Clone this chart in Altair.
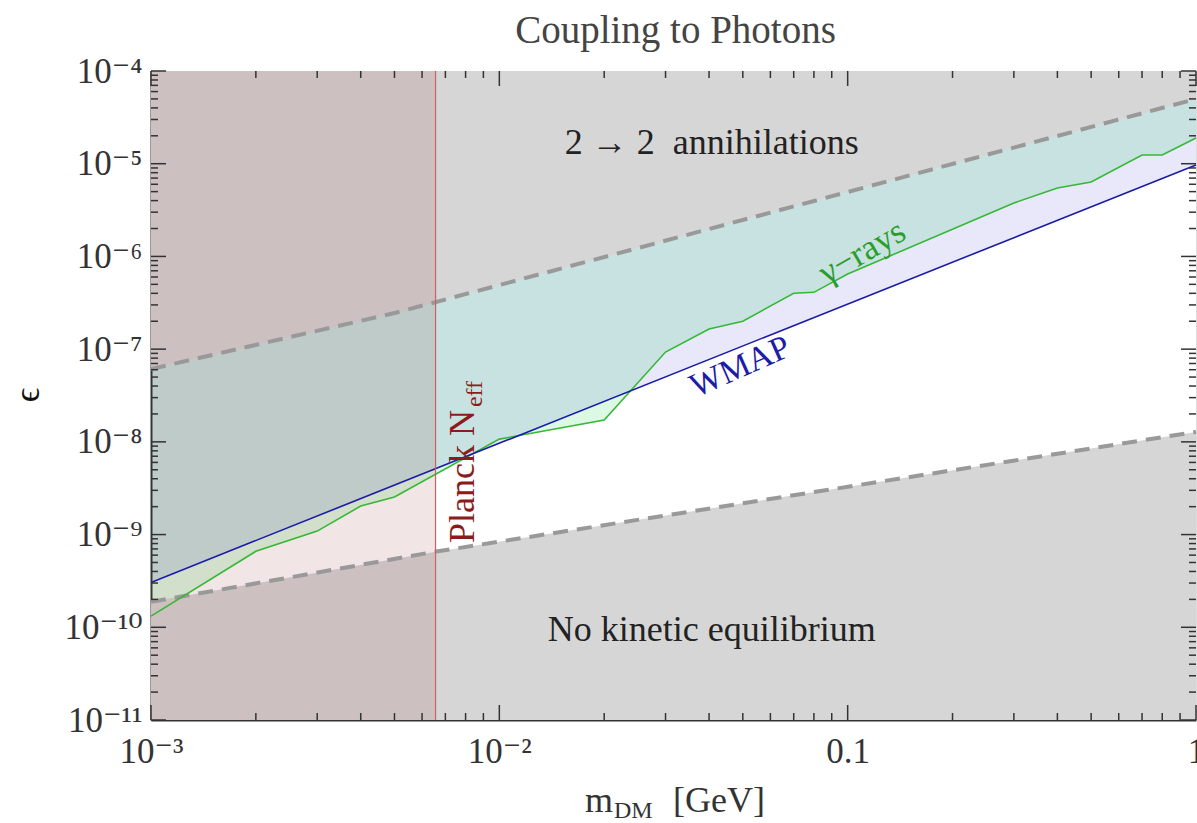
import math
import altair as alt
import pandas as pd

# ---------------- data ----------------
mass_gamma = [1e-3, 2e-3, 3e-3, 4e-3, 5e-3, 1e-2, 2e-2, 3e-2, 4e-2, 5e-2,
              7e-2, 8e-2, 0.1, 0.3, 0.4, 0.5, 0.7, 0.8, 1.0]
eps_gamma = [1.32e-10, 6.6e-10, 1.09e-9, 2.03e-9, 2.54e-9, 1.07e-8, 1.72e-8,
             9.3e-8, 1.65e-7, 2.0e-7, 4.0e-7, 4.1e-7, 6.46e-7, 3.77e-6,
             5.47e-6, 6.35e-6, 1.24e-5, 1.24e-5, 1.89e-5]

mass_wmap = [1e-3, 1.0]
eps_wmap = [3.05e-10, 9.7e-6]

mass_upper = [1e-3, 5e-3, 1.0]          # 2 -> 2 annihilations boundary
eps_upper = [6.1e-8, 2.45e-7, 5.0e-5]

mass_lower = [1e-3, 6.5e-3, 1.0]        # kinetic equilibrium boundary
eps_lower = [1.88e-10, 6.5e-10, 1.28e-8]

planck_mass = 6.56e-3

x_domain = [1e-3, 1.0]
y_domain = [1e-11, 1e-4]

x_label_values = [1e-3, 1e-2, 0.1, 1.0]
x_labels = ["10⁻³", "10⁻²", "0.1", "1"]
y_label_values = [1e-11, 1e-10, 1e-9, 1e-8, 1e-7, 1e-6, 1e-5, 1e-4]
y_labels = ["10⁻¹¹", "10⁻¹⁰", "10⁻⁹", "10⁻⁸", "10⁻⁷", "10⁻⁶", "10⁻⁵", "10⁻⁴"]

x_major = [1e-3, 1e-2, 0.1, 1.0]
x_minor = [m * 10.0 ** k for k in (-3, -2, -1) for m in range(2, 10)]
y_major = y_label_values
y_minor = [m * 10.0 ** k for k in range(-11, -4) for m in range(2, 10)]

# annotation anchors (data coordinates)
ann_text = ["2 → 2\u00a0 annihilations", "No kinetic equilibrium"]
ann_m = [0.0407, 0.0407]
ann_e = [1.67e-5, 9.3e-11]

W, H = 1045, 649
FONT = "Liberation Serif, DejaVu Serif, serif"


def label_expr(values, labels):
    parts = [f"round(log(datum.value)/LN10) == {round(math.log10(v))} ? '{l}' : "
             for v, l in zip(values, labels)]
    return "".join(parts) + "''"


xscale = alt.Scale(type="log", domain=x_domain, nice=False)
yscale = alt.Scale(type="log", domain=y_domain, nice=False)
xaxis = alt.Axis(values=x_label_values, labelExpr=label_expr(x_label_values, x_labels),
                 ticks=False, grid=False, domain=True, domainColor="#333", domainWidth=2,
                 labelFont=FONT, labelFontSize=35, labelColor="#333", labelPadding=14,
                 labelOverlap=False, labelFlush=False, title=None)
yaxis = alt.Axis(values=y_label_values, labelExpr=label_expr(y_label_values, y_labels),
                 ticks=False, grid=False, domain=True, domainColor="#333", domainWidth=2,
                 labelFont=FONT, labelFontSize=35, labelColor="#333", labelPadding=9,
                 labelOverlap=False, labelFlush=False, title=None)


def X(f):
    return alt.X(f, type="quantitative", scale=xscale, axis=xaxis)


def Y(f):
    return alt.Y(f, type="quantitative", scale=yscale, axis=yaxis)


gamma_df = pd.DataFrame({"m": mass_gamma, "e": eps_gamma, "top": y_domain[1]})
wmap_df = pd.DataFrame({"m": mass_wmap, "e": eps_wmap, "top": y_domain[1]})
upper_df = pd.DataFrame({"m": mass_upper, "e": eps_upper, "top": y_domain[1]})
lower_df = pd.DataFrame({"m": mass_lower, "e": eps_lower, "bot": y_domain[0]})
planck_df = pd.DataFrame({"m0": [x_domain[0]], "m1": [planck_mass],
                          "e0": [y_domain[0]], "e1": [y_domain[1]]})
ann_df = pd.DataFrame({"m": ann_m, "e": ann_e, "t": ann_text})

green_fill = alt.Chart(gamma_df).mark_area(color="#00d23c", opacity=0.14).encode(
    x=X("m"), y=Y("e"), y2="top")
blue_fill = alt.Chart(wmap_df).mark_area(color="#0000c8", opacity=0.09).encode(
    x=X("m"), y=Y("e"), y2="top")
gray_top = alt.Chart(upper_df).mark_area(color="#d6d6d6", opacity=1).encode(
    x=X("m"), y=Y("e"), y2="top")
gray_bot = alt.Chart(lower_df).mark_area(color="#d6d6d6", opacity=1).encode(
    x=X("m"), y=Y("e"), y2="bot")
planck_fill = alt.Chart(planck_df).mark_rect(color="#800000", opacity=0.1).encode(
    x=X("m0"), x2="m1", y=Y("e0"), y2="e1")
planck_line = alt.Chart(planck_df).mark_rule(color="#d06060", strokeWidth=1.2).encode(
    x=X("m1"), y=Y("e0"), y2="e1")
green_line = alt.Chart(gamma_df).mark_line(color="#35b835", strokeWidth=1.6).encode(
    x=X("m"), y=Y("e"))
blue_line = alt.Chart(wmap_df).mark_line(color="#1c1ca8", strokeWidth=1.6).encode(
    x=X("m"), y=Y("e"))
upper_dash = alt.Chart(upper_df).mark_line(color="#999999", strokeWidth=4,
                                           strokeDash=[15, 9]).encode(x=X("m"), y=Y("e"))
lower_dash = alt.Chart(lower_df).mark_line(color="#999999", strokeWidth=4,
                                           strokeDash=[15, 9]).encode(x=X("m"), y=Y("e"))

# frame ticks (inward, all four sides)
xt_df = pd.DataFrame({"m": x_major + x_minor,
                      "len": [15] * len(x_major) + [7] * len(x_minor)})
yt_df = pd.DataFrame({"e": y_major + y_minor,
                      "len": [15] * len(y_major) + [7] * len(y_minor)})
tick_style = dict(color="#333", strokeWidth=1.5)
ticks = []
for size in (15, 7):
    xd = xt_df[xt_df["len"] == size]
    yd = yt_df[yt_df["len"] == size]
    ticks.append(alt.Chart(xd).mark_rule(**tick_style).encode(
        x=X("m"), y=alt.value(H), y2=alt.value(H - size)))
    ticks.append(alt.Chart(xd).mark_rule(**tick_style).encode(
        x=X("m"), y=alt.value(0), y2=alt.value(size)))
    ticks.append(alt.Chart(yd).mark_rule(**tick_style).encode(
        y=Y("e"), x=alt.value(0), x2=alt.value(size)))
    ticks.append(alt.Chart(yd).mark_rule(**tick_style).encode(
        y=Y("e"), x=alt.value(W), x2=alt.value(W - size)))

# annotations
ann = alt.Chart(ann_df).mark_text(font=FONT, fontSize=36, color="#222",
                                  align="center", baseline="middle").encode(
    x=X("m"), y=Y("e"), text="t:N")
gamma_lbl = alt.Chart(pd.DataFrame({"m": [0.11], "e": [1.12e-6], "t": ["γ−rays"]})).mark_text(
    font=FONT, fontSize=35, color="#2a9d2a", angle=330, align="center", baseline="middle").encode(
    x=X("m"), y=Y("e"), text="t:N")
wmap_lbl = alt.Chart(pd.DataFrame({"m": [0.0492], "e": [6.4e-8], "t": ["WMAP"]})).mark_text(
    font=FONT, fontSize=34, color="#1c1ca8", angle=336, align="center", baseline="middle").encode(
    x=X("m"), y=Y("e"), text="t:N")
planck_lbl = alt.Chart(pd.DataFrame({"m": [7.85e-3], "e": [8.1e-10], "t": ["Planck N"]})).mark_text(
    font=FONT, fontSize=36, color="#8b1c1c", angle=270, align="left", baseline="middle").encode(
    x=X("m"), y=Y("e"), text="t:N")
planck_sub = alt.Chart(pd.DataFrame({"m": [8.5e-3], "e": [2.37e-8], "t": ["eff"]})).mark_text(
    font=FONT, fontSize=24, color="#8b1c1c", angle=270, align="left", baseline="middle").encode(
    x=X("m"), y=Y("e"), text="t:N")

# title and axis titles (outside the plot area)
def free_text(txt, px, py, size, color="#333", align="left", angle=0, baseline="alphabetic"):
    return alt.Chart(pd.DataFrame({"t": [txt]})).mark_text(
        font=FONT, fontSize=size, color=color, align=align, angle=angle,
        baseline=baseline).encode(x=alt.value(px), y=alt.value(py), text="t:N")

title = free_text("Coupling to Photons", W / 2 + 2, -28, 39, color="#444", align="center")
xt_m = free_text("m", 434, 741, 36)
xt_dm = free_text("DM", 463, 747, 24)
xt_gev = free_text("[GeV]", 522, 741, 36)
yt_eps = free_text("ϵ", -123, 324, 36, color="#111", align="center", angle=270,
                   baseline="middle")

chart = alt.layer(
    green_fill, blue_fill, gray_top, gray_bot, planck_fill,
    upper_dash, lower_dash, green_line, blue_line, planck_line,
    *ticks, ann, gamma_lbl, wmap_lbl, planck_lbl, planck_sub,
    title, xt_m, xt_dm, xt_gev, yt_eps,
).properties(
    width=W, height=H,
    autosize=alt.AutoSizeParams(type="none"),
    padding={"left": 151, "top": 71, "right": 1, "bottom": 103},
).configure_view(stroke="#888", strokeWidth=1.5).configure(background="white")

chart.save("out.html", embed_options={"renderer": "svg", "actions": False})
